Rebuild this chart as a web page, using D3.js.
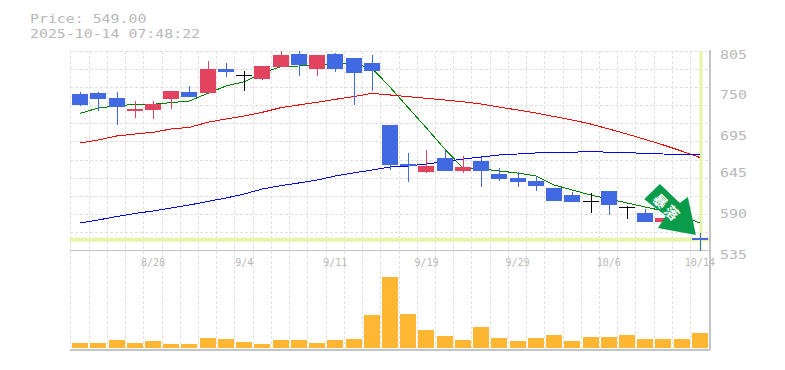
<!DOCTYPE html>
<html><head><meta charset="utf-8">
<script src="https://cdn.jsdelivr.net/npm/d3@7/dist/d3.min.js"></script>
<style>html,body{margin:0;padding:0;background:#fff}svg{display:block}</style>
</head><body><svg id="c" width="785" height="370"></svg>
<script>
const dates=["8/22","8/25","8/26","8/27","8/28","8/29","9/1","9/2","9/3","9/4","9/5","9/8","9/9","9/10","9/11","9/12","9/16","9/17","9/18","9/19","9/22","9/24","9/25","9/26","9/29","9/30","10/1","10/2","10/3","10/6","10/7","10/8","10/9","10/10","10/14"];
const tickDates=["8/28","9/4","9/11","9/19","9/29","10/6","10/14"];
const priceTicks=[805,750,695,645,590,535];
const open=[745.6,747,740.2,722.65,724,738.85,748.3,747,779.35,770.6,765.85,782,799.6,779.35,799.6,794.2,787.45,703.75,651.1,640.3,659.2,641.65,655.15,637.6,632.2,628.15,618.7,609.25,601.15,614.65,593.05,584.95,572.8,572.8,551];
const close=[730.75,738.85,728,725.35,732.1,749.65,741.55,779.35,775.3,770.6,783.4,798.25,784.75,798.25,779.35,773.95,776.65,649.75,648.4,648.4,641.65,647.05,641.65,630.85,626.8,621.4,601.15,599.8,601.15,595.75,593.05,572.8,578.2,560.65,549];
const high=[748.3,748.3,748.3,736.15,736.15,749.65,756.4,790.15,787.45,776.65,783.4,803.65,803.65,798.25,800.95,794.2,798.25,703.75,666,670,670,661.9,660.55,645.7,640.3,634.9,618.7,613.3,611.95,614.65,594.4,590.35,578.2,572.8,558];
const low=[729.4,723.1,703.75,713.2,711.85,725.35,741.55,747,768.55,749.65,764.5,782,769.9,769.9,775.3,730.75,749.65,643,626.8,638.95,641.65,638.95,620.05,628.15,620.05,614.65,601.15,599.8,584.95,582.25,576.85,572.8,572.8,560.65,533.7];
const maShort=[719.5,726.7,729.4,731.7,731.7,733.9,736.2,746.5,756.4,762.2,774,782.5,783.4,783.8,787.9,786.1,780.7,755,727.1,699.7,671.4,645.7,644.4,641.7,638.9,634.9,622.8,616,609.3,603.9,598.5,593.1,587.7,580.9,571.5];
const maMid=[679.5,683.5,688.9,691.6,693.9,698.4,700.6,707.4,711.9,715.9,720.9,727.1,730.8,734.4,738.4,742,746.5,744.3,742,739.8,737.5,735.2,732.1,728,724,719.95,715.2,710.5,705.1,698.4,691.6,684.2,676.8,668.6,659.9];
const maLong=[571.5,575.5,580.2,584.3,587.7,591.7,595.8,600.5,605.2,610.6,617.4,621.8,625.5,629.5,634.9,639,643,647,648.4,651.1,654.2,657.9,660.5,663.3,664.6,666,666.9,666.9,668.2,666.9,666.9,665,664.6,664.2,664.2];
const volume=[5,5,8,5,7,4,4,10,9,6,4,8,8,5,8,9,33,71,34,18,12,8,21,10,7,10,13,7,11,11,13,9,9,9,15];
const lastPrice=549;
const title=["Price: 549.00","2025-10-14 07:48:22"];
const arrowLabel="暴落";

const svg=d3.select("#c");
const mono="'DejaVu Sans Mono',monospace";
const x=d3.scaleBand().domain(dates).range([71,709]);
const cx=d=>x(d)+x.bandwidth()/2;
const y=d3.scaleLinear().domain([535,805]).range([250,50]);
const yv=d3.scaleLinear().domain([0,71]).range([348,277]);
const GRID="#e0e0e0",AXIS="#c4c4c4",TXT="#b8b8b8",HL="#e6f5a9";

// title
svg.selectAll("text.t").data(title).join("text").attr("class","t")
  .attr("x",30).attr("y",(d,i)=>23+i*15).attr("font-family",mono).attr("font-size",12.8).attr("fill",TXT)
  .attr("textLength",d=>d.length*8.95).attr("lengthAdjust","spacingAndGlyphs").text(d=>d);

// grid
const grid=svg.append("g").attr("stroke",GRID).attr("stroke-dasharray","3,2").attr("shape-rendering","crispEdges");
grid.selectAll("line.h").data(d3.range(12)).join("line").attr("class","h")
  .attr("x1",70).attr("x2",710).attr("y1",i=>Math.round(51+i*199/11)).attr("y2",i=>Math.round(51+i*199/11));
grid.selectAll("line.v").data(dates).join("line").attr("class","v")
  .attr("x1",d=>Math.round(x(d)-0.6)).attr("x2",d=>Math.round(x(d)-0.6)).attr("y1",51).attr("y2",348);

// highlight of last price/date
svg.append("rect").attr("x",cx(dates[34])-0.5).attr("y",y(805)+1).attr("width",3).attr("height",199).attr("fill",HL);
svg.append("rect").attr("x",70).attr("y",y(lastPrice)-2).attr("width",640).attr("height",4).attr("fill",HL);

// frame
const frame=svg.append("g").attr("stroke",AXIS).attr("shape-rendering","crispEdges");
frame.append("line").attr("x1",70).attr("x2",710).attr("y1",250).attr("y2",250);
frame.append("line").attr("x1",710).attr("x2",710).attr("y1",50).attr("y2",350).attr("stroke-width",1.5);
frame.append("line").attr("x1",70).attr("x2",710).attr("y1",349.5).attr("y2",349.5).attr("stroke-width",2);

// axes
const ax=svg.append("g").attr("transform","translate(0,266)").call(d3.axisBottom(x).tickValues(tickDates).tickSize(0));
ax.select(".domain").remove();
ax.selectAll("text").attr("y",0).attr("dy",0).attr("font-family",mono).attr("font-size",10).attr("fill",TXT);
const ay=svg.append("g").attr("transform","translate(720,8)").call(d3.axisRight(y).tickValues(priceTicks).tickSize(0).tickPadding(0));
ay.select(".domain").remove();
ay.selectAll("text").attr("dy",0).attr("x",0).attr("font-family",mono).attr("font-size",13).attr("fill",TXT)
  .attr("textLength",27).attr("lengthAdjust","spacingAndGlyphs");

// volume
svg.append("g").attr("shape-rendering","crispEdges").selectAll("rect").data(volume).join("rect")
  .attr("x",(d,i)=>Math.round(cx(dates[i])-8)).attr("width",16)
  .attr("y",d=>yv(d)).attr("height",d=>yv(0)-yv(d)).attr("fill","#ffb733");

// moving averages
const line=d3.line().x((d,i)=>cx(dates[i])).y(d=>y(d));
[[maShort,"#008000"],[maMid,"#ff0000"],[maLong,"#0000ff"]].forEach(([s,c])=>{
  svg.append("path").attr("d",line(s)).attr("fill","none").attr("stroke",c).attr("stroke-width",1).attr("shape-rendering","crispEdges");
});

// candles
const col=i=>close[i]>open[i]?"#e2435f":close[i]<open[i]?"#4169e1":"#000";
const cg=svg.append("g").attr("shape-rendering","crispEdges");
dates.forEach((d,i)=>{
  const c=col(i),m=Math.round(cx(d));
  cg.append("line").attr("x1",m).attr("x2",m).attr("y1",y(high[i])).attr("y2",y(low[i])).attr("stroke",c);
  const t=y(Math.max(open[i],close[i])),b=y(Math.min(open[i],close[i]));
  cg.append("rect").attr("x",m-8).attr("width",16).attr("y",t).attr("height",Math.max(b-t,1)).attr("fill",c);
});

// arrow annotation
const arrow=svg.append("g").attr("transform",`translate(${cx(dates[34])-4},${y(lastPrice)-4.6})`);
arrow.append("path").attr("d",d3.line()([[-36,-51],[-16,-32],[-8,-38],[0,0],[-38,-7],[-30,-19.3],[-51.7,-35.7]])+"Z").attr("fill","#0a9b4b");
arrow.append("text").attr("transform","translate(-29,-27) rotate(45)").attr("text-anchor","middle").attr("dy","0.36em")
  .attr("font-family","'Noto Sans CJK JP'").attr("font-weight",700).attr("font-size",14).attr("letter-spacing",2.5).attr("fill","#fff").text(arrowLabel);
</script></body></html>
